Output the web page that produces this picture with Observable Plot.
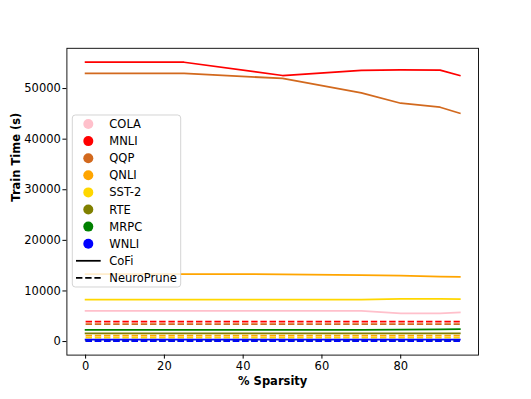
<!DOCTYPE html>
<html><head><meta charset="utf-8">
<script src="https://cdn.jsdelivr.net/npm/d3@7"></script>
<script src="https://cdn.jsdelivr.net/npm/@observablehq/plot@0.6"></script>
<style>
html,body{margin:0;padding:0;background:#fff;overflow:hidden;}
</style></head><body><div id="chart"></div>
<script>
// ---- data ----
const sparsity = [0, 25, 50, 70, 80, 90, 95];
const datasets = ["COLA", "MNLI", "QQP", "QNLI", "SST-2", "RTE", "MRPC", "WNLI"];
const colors = ["pink", "red", "chocolate", "orange", "gold", "olive", "green", "blue"];
const methods = ["CoFi", "NeuroPrune"];
// CoFi train time (s) per sparsity level
const cofiCOLA = [6080, 6080, 6080, 6050, 5550, 5550, 5750];
const cofiMNLI = [55200, 55200, 52580, 53570, 53670, 53650, 52580];
const cofiQQP  = [52980, 52980, 52000, 49160, 47100, 46310, 45120];
const cofiQNLI = [13350, 13350, 13300, 13150, 13050, 12850, 12800];
const cofiSST2 = [8300, 8300, 8300, 8300, 8450, 8450, 8400];
const cofiRTE  = [1600, 1600, 1600, 1600, 1600, 1600, 1600];
const cofiMRPC = [2320, 2320, 2320, 2320, 2350, 2420, 2450];
const cofiWNLI = [400, 400, 400, 400, 400, 400, 400];
// NeuroPrune train time (s) (flat over sparsity)
const neuroPrune = [250, 3960, 3440, 1190, 790, 150, 200, 80];
const xTicks = [0, 20, 40, 60, 80];
const yTicks = [0, 10000, 20000, 30000, 40000, 50000];
const xLabel = "% Sparsity";
const yLabel = "Train Time (s)";

const cofi = [cofiCOLA, cofiMNLI, cofiQQP, cofiQNLI, cofiSST2, cofiRTE, cofiMRPC, cofiWNLI];
const rows = [];
datasets.forEach((name, i) => {
  sparsity.forEach((s, j) => {
    rows.push({dataset: name, method: "CoFi", sparsity: s, time: cofi[i][j]});
    rows.push({dataset: name, method: "NeuroPrune", sparsity: s, time: neuroPrune[i]});
  });
});

const pad = (lo, hi) => [lo - 0.05 * (hi - lo), hi + 0.05 * (hi - lo)];
const xDomain = pad(d3.min(sparsity), d3.max(sparsity));
const yDomain = pad(d3.min(rows, d => d.time), d3.max(rows, d => d.time));

const LW = 1.75;
const lineMarks = datasets.flatMap(name => [
  Plot.line(rows.filter(d => d.dataset === name && d.method === "CoFi"),
    {x: "sparsity", y: "time", stroke: "dataset", strokeWidth: LW, strokeLinecap: "square"}),
  Plot.line(rows.filter(d => d.dataset === name && d.method === "NeuroPrune"),
    {x: "sparsity", y: "time", stroke: "dataset", strokeWidth: LW, strokeDasharray: "6.4,2.8", strokeLinecap: "butt"})
]);

const chart = Plot.plot({
  width: 531, height: 399,
  marginLeft: 66.4, marginRight: 53, marginTop: 47.8, marginBottom: 44.4,
  style: {fontFamily: "'DejaVu Sans', sans-serif", fontSize: "11.5px", background: "white", overflow: "visible", color: "black"},
  x: {domain: xDomain},
  y: {domain: yDomain},
  color: {domain: datasets, range: colors},
  marks: [
    ...lineMarks,
    Plot.frame({stroke: "black", strokeWidth: 0.9}),
    Plot.axisX({ticks: xTicks, tickSize: 4, tickPadding: 3, tickFormat: d => String(d), label: null}),
    Plot.axisY({ticks: yTicks, tickSize: 4, tickPadding: 2, tickFormat: d => String(d), label: null}),
    Plot.text([xLabel], {text: d => d, frameAnchor: "bottom", dy: 29.5, fontWeight: "bold"}),
    Plot.text([yLabel], {text: d => d, frameAnchor: "left", dx: -51, rotate: -90, fontWeight: "bold"})
  ]
});
document.getElementById("chart").appendChild(chart);

// ---- legend (matplotlib-style box inside the axes) ----
const svg = d3.select(chart);
const lg = svg.append("g").attr("font-family", "'DejaVu Sans', sans-serif").attr("font-size", 11.5)
  .attr("text-anchor", "start");
lg.append("rect").attr("x", 72.3).attr("y", 115).attr("width", 108.4).attr("height", 172)
  .attr("rx", 3).attr("fill", "white").attr("fill-opacity", 0.8)
  .attr("stroke", "#cccccc").attr("stroke-width", 0.85);
const entries = datasets.map((d, i) => ({label: d, color: colors[i], kind: "dot"}))
  .concat(methods.map((m, i) => ({label: m, color: "black", kind: i === 0 ? "solid" : "dash"})));
entries.forEach((e, i) => {
  const cy = 124 + i * 17.1;
  if (e.kind === "dot") {
    lg.append("circle").attr("cx", 88.3).attr("cy", cy).attr("r", 5).attr("fill", e.color);
  } else {
    lg.append("line").attr("x1", 76).attr("x2", 100.7).attr("y1", cy).attr("y2", cy)
      .attr("stroke", "black").attr("stroke-width", LW)
      .attr("stroke-dasharray", e.kind === "dash" ? "6.4,2.8" : null);
  }
  lg.append("text").attr("x", 109.3).attr("y", cy).attr("dy", "0.35em")
    .attr("text-anchor", "start").attr("fill", "black").text(e.label);
});
</script>
</body></html>
